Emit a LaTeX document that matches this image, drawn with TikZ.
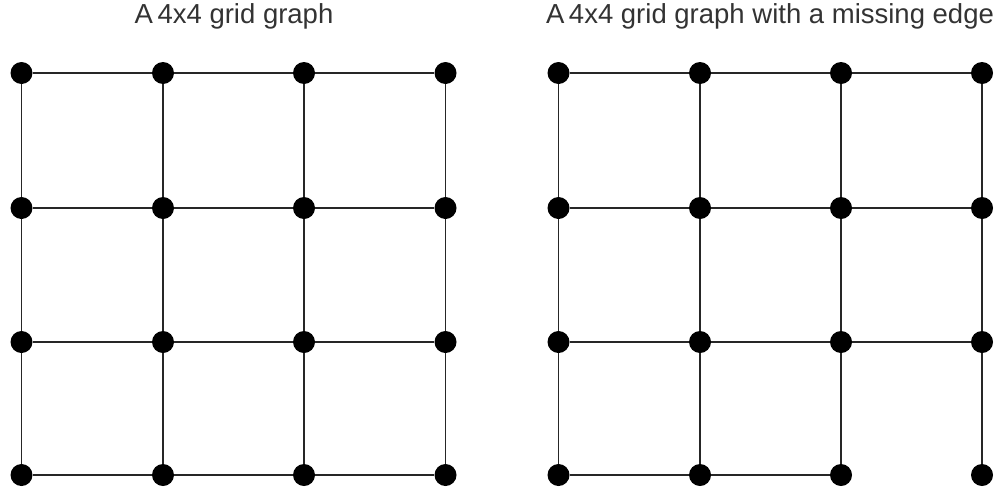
\documentclass[tikz,border=0pt]{standalone}
\usepackage{fontspec}
\setmainfont{Liberation Sans}
\begin{document}
\begin{tikzpicture}[x=1pt,y=-1pt,
  vtx/.style={circle,fill=black,inner sep=0pt,minimum size=22pt},
  edge/.style={line width=1.5pt,draw=black!85},
  ttl/.style={anchor=base,text=black!80,font=\fontsize{27.5}{32}\selectfont,inner sep=0pt}]
\useasboundingbox (0,0) rectangle (1003,490);
\node[ttl] (t1) at (234,23) {A\,4x4 grid graph};
\node[ttl] (t2) at (770,23) {A\,4x4 grid graph with a missing edge};
% vertices
\foreach \i/\x in {1/21.5,2/163,3/304,4/445.5}{
  \foreach \j/\y in {1/73,2/208,3/342,4/475}{
    \node[vtx] (a\i\j) at (\x,\y) {};
  }
}
\foreach \i/\x in {1/558.5,2/700,3/841,4/982}{
  \foreach \j/\y in {1/73,2/208,3/342,4/475}{
    \node[vtx] (b\i\j) at (\x,\y) {};
  }
}
% edges left
\foreach \j in {1,2,3,4}{
  \draw[edge] (a1\j) -- (a2\j) -- (a3\j) -- (a4\j);
  \draw[edge] (a\j1) -- (a\j2) -- (a\j3) -- (a\j4);
}
% edges right
\foreach \j in {1,2,3}{
  \draw[edge] (b1\j) -- (b2\j) -- (b3\j) -- (b4\j);
}
\draw[edge] (b14) -- (b24) -- (b34);
\foreach \j in {1,2,3,4}{
  \draw[edge] (b\j1) -- (b\j2) -- (b\j3) -- (b\j4);
}
\end{tikzpicture}
\end{document}
